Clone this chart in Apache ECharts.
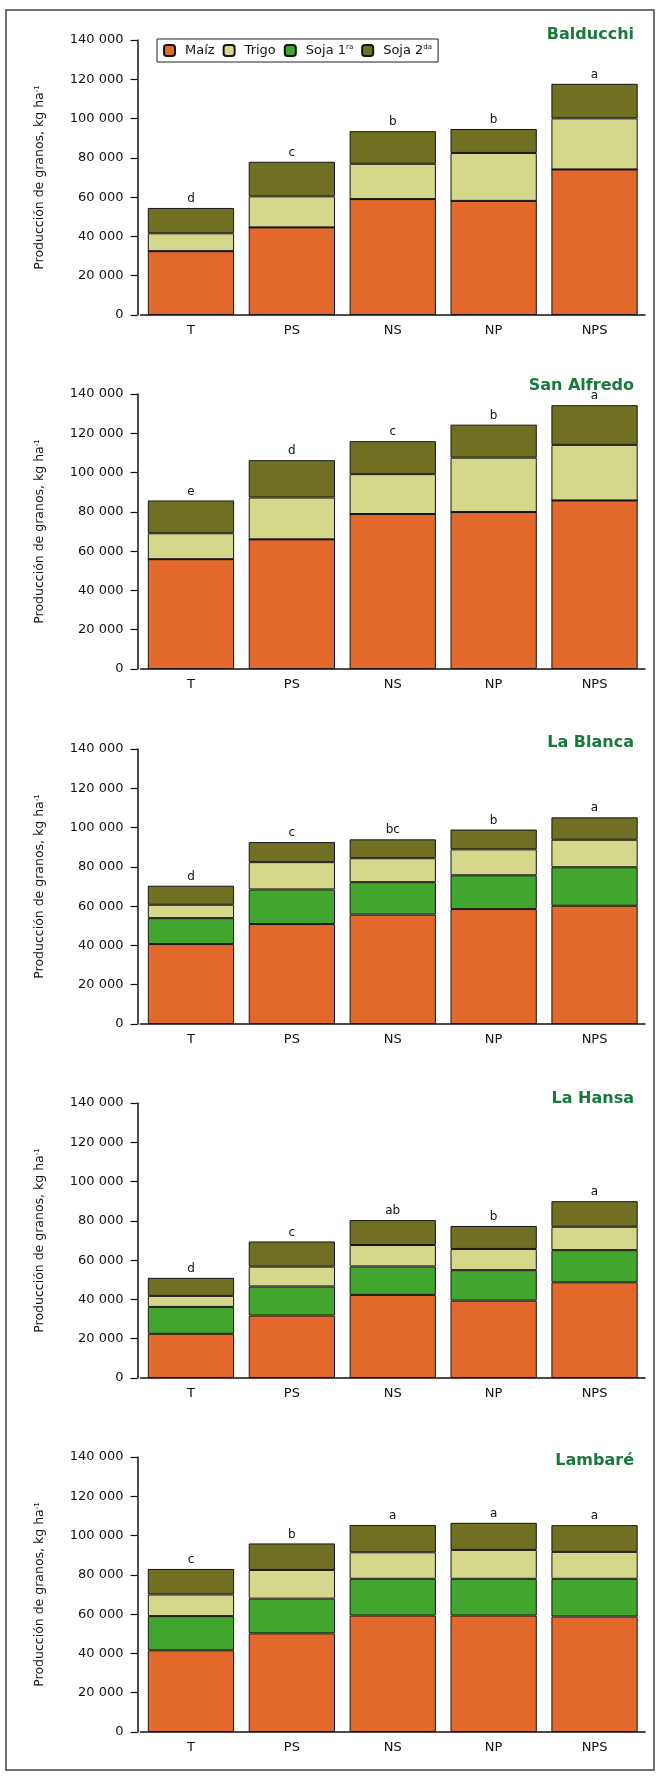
<!DOCTYPE html>
<html>
<head>
<meta charset="utf-8">
<script src="https://cdn.jsdelivr.net/npm/echarts@6/dist/echarts.min.js"></script>
<style>
  html, body { margin: 0; padding: 0; background: #ffffff; }
  #chart { width: 659px; height: 1776px; }
</style>
</head>
<body>
<div id="chart"></div>
<script>
// ---------- data ----------
const categories = ['T', 'PS', 'NS', 'NP', 'NPS'];
const seriesNames = ['Maíz', 'Trigo', 'Soja 1ra', 'Soja 2da'];
const sites = ['Balducchi', 'San Alfredo', 'La Blanca', 'La Hansa', 'Lambaré'];
const yTickLabels = ['0', '20 000', '40 000', '60 000', '80 000', '100 000', '120 000', '140 000'];

const balducchiMaiz  = [32500, 44600, 59000, 58100, 74100];
const balducchiSoja1 = [0, 0, 0, 0, 0];
const balducchiTrigo = [9100, 15800, 18000, 24400, 26000];
const balducchiSoja2 = [12900, 17600, 16600, 12200, 17600];
const balducchiLetters = ['d', 'c', 'b', 'b', 'a'];

const sanAlfredoMaiz  = [55900, 66000, 78900, 79900, 85800];
const sanAlfredoSoja1 = [0, 0, 0, 0, 0];
const sanAlfredoTrigo = [13200, 21300, 20300, 27700, 28300];
const sanAlfredoSoja2 = [16700, 19000, 16800, 16800, 20200];
const sanAlfredoLetters = ['e', 'd', 'c', 'b', 'a'];

const laBlancaMaiz  = [40700, 50900, 55700, 58500, 60200];
const laBlancaSoja1 = [13200, 17600, 16500, 17200, 19600];
const laBlancaTrigo = [6800, 13900, 12200, 13200, 14000];
const laBlancaSoja2 = [9700, 10200, 9600, 10100, 11400];
const laBlancaLetters = ['d', 'c', 'bc', 'b', 'a'];

const laHansaMaiz  = [22500, 31800, 42300, 39400, 48700];
const laHansaSoja1 = [13700, 14800, 14500, 15500, 16400];
const laHansaTrigo = [5600, 10100, 10900, 10800, 11900];
const laHansaSoja2 = [9200, 12800, 12700, 11700, 13000];
const laHansaLetters = ['d', 'c', 'ab', 'b', 'a'];

const lambareMaiz  = [41600, 50200, 59300, 59300, 58800];
const lambareSoja1 = [17400, 17700, 18700, 18700, 19200];
const lambareTrigo = [11000, 14600, 13500, 14700, 13700];
const lambareSoja2 = [13000, 13500, 13900, 13800, 13600];
const lambareLetters = ['c', 'b', 'a', 'a', 'a'];

// ---------- layout / style ----------
const panels = [
  { maiz: balducchiMaiz, soja1: balducchiSoja1, trigo: balducchiTrigo, soja2: balducchiSoja2, letters: balducchiLetters },
  { maiz: sanAlfredoMaiz, soja1: sanAlfredoSoja1, trigo: sanAlfredoTrigo, soja2: sanAlfredoSoja2, letters: sanAlfredoLetters },
  { maiz: laBlancaMaiz, soja1: laBlancaSoja1, trigo: laBlancaTrigo, soja2: laBlancaSoja2, letters: laBlancaLetters },
  { maiz: laHansaMaiz, soja1: laHansaSoja1, trigo: laHansaTrigo, soja2: laHansaSoja2, letters: laHansaLetters },
  { maiz: lambareMaiz, soja1: lambareSoja1, trigo: lambareTrigo, soja2: lambareSoja2, letters: lambareLetters }
];
const gridTops = [40, 394, 749, 1103, 1457];
const titleTops = [27, 378, 735, 1091, 1453];
const colors = { 'Maíz': '#E2692B', 'Trigo': '#D5D88A', 'Soja 1ra': '#42A52E', 'Soja 2da': '#706F22' };
const FONT = 'DejaVu Sans';

const grids = [], xAxes = [], yAxes = [], series = [], titles = [];

panels.forEach((p, i) => {
  grids.push({ left: 140.5, width: 504.5, top: gridTops[i], height: 275 });
  titles.push({
    text: sites[i], right: 25, top: titleTops[i], padding: 0,
    textStyle: { fontFamily: FONT, fontSize: 16, fontWeight: 'bold', color: '#18793A' }
  });
  xAxes.push({
    type: 'category', gridIndex: i, data: categories,
    axisLine: { lineStyle: { color: '#111', width: 1.5 } },
    axisTick: { alignWithLabel: true, length: 5, lineStyle: { color: '#111', width: 1.5 } },
    axisLabel: { fontFamily: FONT, fontSize: 13, color: '#111', margin: 9 }
  });
  yAxes.push({
    type: 'value', gridIndex: i, min: 0, max: 140000, interval: 20000, offset: 3,
    axisLine: { show: true, lineStyle: { color: '#111', width: 1.5 } },
    axisTick: { show: true, length: 7, lineStyle: { color: '#111', width: 1.2 } },
    splitLine: { show: false },
    axisLabel: {
      fontFamily: FONT, fontSize: 13, color: '#111', margin: 14,
      formatter: v => yTickLabels[Math.round(v / 20000)]
    },
    name: 'Producción de granos, kg ha{s|-1}',
    nameLocation: 'middle', nameGap: 91, nameRotate: 90,
    nameTextStyle: {
      fontFamily: FONT, fontSize: 12.5, color: '#111',
      rich: { s: { fontFamily: FONT, fontSize: 7, verticalAlign: 'top', color: '#111' } }
    }
  });
  const stackId = 'st' + i;
  const parts = [['Maíz', p.maiz], ['Soja 1ra', p.soja1], ['Trigo', p.trigo], ['Soja 2da', p.soja2]];
  parts.forEach(([name, data], k) => {
    const s = {
      type: 'bar', xAxisIndex: i, yAxisIndex: i, stack: stackId,
      barCategoryGap: '14.5%',
      name: name, data: data,
      itemStyle: { color: colors[name], borderColor: '#151515', borderWidth: 1 }
    };
    if (k === parts.length - 1) {
      s.label = {
        show: true, position: 'top', distance: 3,
        fontFamily: FONT, fontSize: 12, color: '#111',
        formatter: params => p.letters[params.dataIndex]
      };
    }
    series.push(s);
  });
});

const option = {
  animation: false,
  backgroundColor: '#ffffff',
  title: titles,
  legend: {
    data: seriesNames,
    left: 157, top: 39,
    orient: 'horizontal',
    itemWidth: 11, itemHeight: 11, itemGap: 8,
    padding: [5, 6, 5, 6],
    borderColor: '#222', borderWidth: 1, backgroundColor: '#fff',
    selectedMode: false,
    formatter: name => {
      if (name === 'Soja 1ra') return 'Soja 1{s|ra}';
      if (name === 'Soja 2da') return 'Soja 2{s|da}';
      return name;
    },
    textStyle: {
      fontFamily: FONT, fontSize: 13, color: '#111', padding: [0, 0, 0, 5],
      rich: { s: { fontFamily: FONT, fontSize: 7, verticalAlign: 'top', color: '#111' } }
    }
  },
  grid: grids,
  xAxis: xAxes,
  yAxis: yAxes,
  series: series,
  graphic: [{
    type: 'rect', silent: true,
    shape: { x: 6, y: 10, width: 648, height: 1760 },
    style: { fill: 'none', stroke: '#444', lineWidth: 1.5 }
  }]
};

const chart = echarts.init(document.getElementById('chart'), null, { renderer: 'canvas' });
chart.setOption(option);
</script>
</body>
</html>
